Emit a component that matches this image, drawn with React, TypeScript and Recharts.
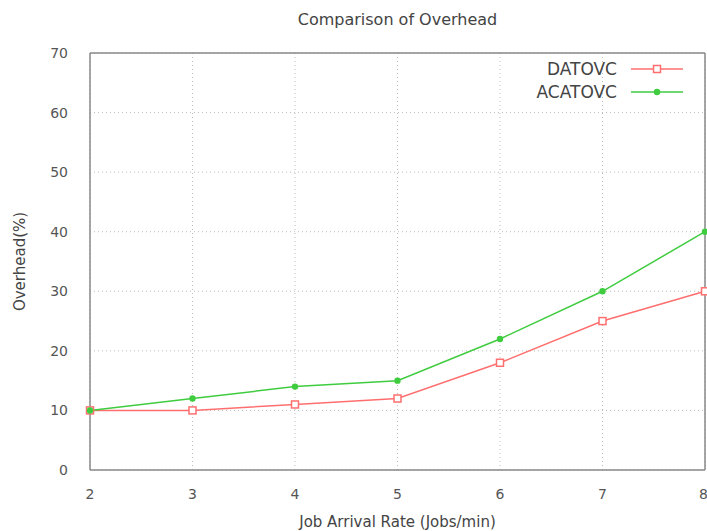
import React from 'react';
import { LineChart, Line, XAxis, YAxis, CartesianGrid } from 'recharts';

const rates = [2, 3, 4, 5, 6, 7, 8];
const datovc = [10, 10, 11, 12, 18, 25, 30];
const acatovc = [10, 12, 14, 15, 22, 30, 40];
const yTicks = [0, 10, 20, 30, 40, 50, 60, 70];

const data = rates.map((r, i) => ({ rate: r, datovc: datovc[i], acatovc: acatovc[i] }));

const RED = '#ff6f6f';
const GREEN = '#3fcc3f';
const FONT = '"DejaVu Sans", sans-serif';

const Square = (props: any) => {
  const { cx, cy, index } = props;
  if (cx == null || cy == null) return null;
  return <rect key={index} x={cx - 3.5} y={cy - 3.5} width={7} height={7} fill="#fff" stroke={RED} strokeWidth={1.5} />;
};

const Dot = (props: any) => {
  const { cx, cy, index } = props;
  if (cx == null || cy == null) return null;
  return <circle key={index} cx={cx} cy={cy} r={3.2} fill={GREEN} />;
};

const LegendBox = () => (
  <div style={{ position: 'absolute', top: 57, right: 12, fontFamily: FONT, fontSize: 17, color: '#444' }}>
    {[
      { name: 'DATOVC', color: RED, square: true },
      { name: 'ACATOVC', color: GREEN, square: false },
    ].map((s) => (
      <div key={s.name} style={{ display: 'flex', alignItems: 'center', justifyContent: 'flex-end', height: 23 }}>
        <span>{s.name}</span>
        <svg width={66} height={12} style={{ marginLeft: 12 }}>
          <line x1={2} y1={6} x2={54} y2={6} stroke={s.color} strokeWidth={1.5} />
          {s.square ? (
            <rect x={24.5} y={2.5} width={7} height={7} fill="#fff" stroke={s.color} strokeWidth={1.5} />
          ) : (
            <circle cx={28} cy={6} r={3.2} fill={s.color} />
          )}
        </svg>
      </div>
    ))}
  </div>
);

export default function App() {
  return (
    <div style={{ position: 'absolute', left: 0, top: 0, width: 707, height: 531, background: '#fff' }}>
      <div
        style={{
          position: 'absolute',
          top: 10,
          left: 90,
          width: 615,
          textAlign: 'center',
          fontFamily: FONT,
          fontSize: 16,
          color: '#444',
        }}
      >
        Comparison of Overhead
      </div>
      <LineChart width={707} height={531} data={data} margin={{ top: 52, right: 1, bottom: 0, left: 0 }}>
        <CartesianGrid stroke="#bbb" strokeDasharray="1 3" />
        <XAxis
          dataKey="rate"
          type="number"
          domain={[2, 8]}
          ticks={rates}
          stroke="#888"
          strokeWidth={1.5}
          tickLine={false}
          tickMargin={13}
          height={61}
          tick={{ fill: '#555', fontSize: 14, fontFamily: FONT }}
          label={{ value: 'Job Arrival Rate (Jobs/min)', position: 'insideBottom', offset: 4, fill: '#444', fontSize: 15, fontFamily: FONT }}
        />
        <XAxis xAxisId="top" dataKey="rate" type="number" domain={[2, 8]} orientation="top" stroke="#888" strokeWidth={1.5} tick={false} tickLine={false} height={1} />
        <YAxis
          domain={[0, 70]}
          ticks={yTicks}
          stroke="#888"
          strokeWidth={1.5}
          tickLine={false}
          tickMargin={16}
          width={90}
          tick={{ fill: '#555', fontSize: 14, fontFamily: FONT }}
          label={{ value: 'Overhead(%)', angle: -90, position: 'insideLeft', offset: 20, fill: '#444', fontSize: 15, fontFamily: FONT, style: { textAnchor: 'middle' } }}
        />
        <YAxis yAxisId="right" orientation="right" domain={[0, 70]} stroke="#888" strokeWidth={1.5} tick={false} tickLine={false} width={1} />
        <Line
          dataKey="datovc"
          stroke={RED}
          strokeWidth={1.5}
          dot={<Square />}
          activeDot={false}
          isAnimationActive={false}
        />
        <Line
          dataKey="acatovc"
          stroke={GREEN}
          strokeWidth={1.5}
          dot={<Dot />}
          activeDot={false}
          isAnimationActive={false}
        />
      </LineChart>
      <LegendBox />
    </div>
  );
}
